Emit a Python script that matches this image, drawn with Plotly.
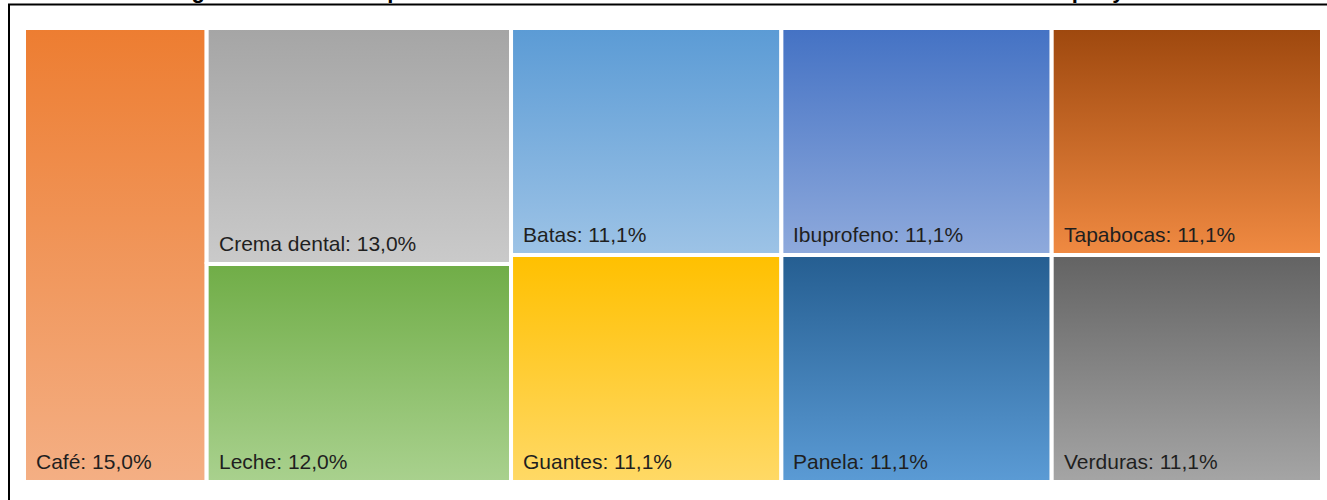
import plotly.graph_objects as go

# Data
columns = [["Café"], ["Crema dental", "Leche"], ["Batas", "Guantes"],
           ["Ibuprofeno", "Panela"], ["Tapabocas", "Verduras"]]
values = {"Café": 15.0, "Crema dental": 13.0, "Leche": 12.0, "Batas": 11.1,
          "Guantes": 11.1, "Ibuprofeno": 11.1, "Panela": 11.1,
          "Tapabocas": 11.1, "Verduras": 11.1}
# (top colour, bottom colour) of each tile's vertical gradient
colors = {"Café": ("#ED7D31", "#F4AF84"),
          "Crema dental": ("#A5A5A5", "#CACACA"),
          "Leche": ("#70AD47", "#A9D18E"),
          "Batas": ("#5B9BD5", "#9DC3E6"),
          "Guantes": ("#FFC000", "#FFD966"),
          "Ibuprofeno": ("#4472C4", "#8FAADC"),
          "Panela": ("#255E91", "#5B9BD5"),
          "Tapabocas": ("#9E480E", "#F08A42"),
          "Verduras": ("#636363", "#A5A5A5")}
title_text = ("Diagrama de árbol de productos más vendidos del almacén "
              "durante el último mes: compra y uso")

fig = go.Figure()
annotations = []
x_cursor = 0.0
for col in columns:
    col_total = sum(values[n] for n in col)
    x0, x1 = x_cursor, x_cursor + col_total
    y_top = 1.0
    for name in col:
        h = values[name] / col_total
        y0, y1 = y_top - h, y_top
        top, bottom = colors[name]
        fig.add_trace(go.Scatter(
            x=[x0, x1, x1, x0, x0], y=[y0, y0, y1, y1, y0],
            mode="lines", fill="toself",
            line=dict(color="white", width=4),
            fillgradient=dict(type="vertical",
                              colorscale=[[0, bottom], [1, top]]),
            hoverinfo="skip", showlegend=False))
        label = f"{name}: {values[name]:.1f}%".replace(".", ",")
        annotations.append(dict(
            x=x0, y=y0, xref="x", yref="y", text=label, showarrow=False,
            xanchor="left", yanchor="bottom", xshift=10, yshift=7,
            font=dict(family="Liberation Sans, Arial", size=21, color="#1F1F1F")))
        y_top = y0
    x_cursor = x1

total = x_cursor
L, R, T, B = 24, 5, 28, 18
W, H = 1327, 500
pw, ph = W - L - R, H - T - B

fig.update_layout(
    width=W, height=H,
    margin=dict(l=L, r=R, t=T, b=B),
    paper_bgcolor="white", plot_bgcolor="white",
    xaxis=dict(range=[0, total], visible=False, fixedrange=True),
    yaxis=dict(range=[0, 1], visible=False, fixedrange=True),
    annotations=annotations,
    title=dict(text=f"<b>{title_text}</b>", x=0.5, xref="container",
               xanchor="center", y=1.0, yref="container", yanchor="bottom",
               pad=dict(b=2),
               font=dict(family="Liberation Sans, Arial", size=22, color="black")),
    shapes=[dict(type="rect", xref="paper", yref="paper",
                 x0=(9 - L) / pw, x1=1.2, y0=-0.3, y1=(H - B - 4.5) / ph,
                 line=dict(color="black", width=2), fillcolor="rgba(0,0,0,0)",
                 layer="above")],
)

fig.write_html("out.html", config={"displayModeBar": False},
               post_script="document.body.style.margin='0';"
                           "document.body.style.overflow='hidden';")
